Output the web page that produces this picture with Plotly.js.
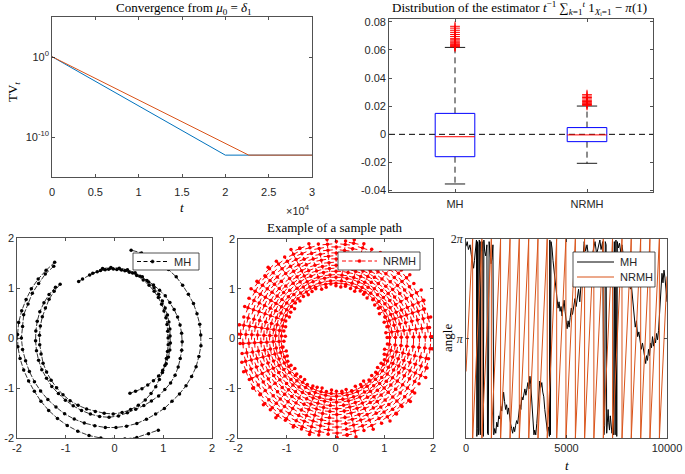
<!DOCTYPE html>
<html><head><meta charset="utf-8">
<script src="https://cdn.plot.ly/plotly-3.0.1.min.js"></script>
<style>html,body{margin:0;padding:0;background:#fff}#chart{width:685px;height:474px}</style>
</head><body><div id="chart"></div>
<script>
// ---------- Panel 1: TV_t convergence (log scale) ----------
const tvTimeMH = [0, 20000, 30000];
const tvMH = [1.1, 5.4e-13, 5.4e-13];
const tvTimeNRMH = [0, 22700, 30000];
const tvNRMH = [1.1, 5.4e-13, 5.4e-13];
const tvXTickVals = [0, 5000, 10000, 15000, 20000, 25000, 30000];
const tvXTickText = ['0', '0.5', '1', '1.5', '2', '2.5', '3'];

// ---------- Panel 2: boxplots ----------
const boxCats = ['MH', 'NRMH'];
const boxPos = [1, 2];
const boxQ1 = [-0.0159, -0.0052];
const boxMed = [-0.0017, -0.0004];
const boxQ3 = [0.0149, 0.0048];
const boxLowW = [-0.0353, -0.0206];
const boxUpW = [0.0618, 0.0201];
const outMH = [0.0622, 0.0626, 0.063, 0.0635, 0.064, 0.0648, 0.0655, 0.0663, 0.0672, 0.068, 0.0695, 0.071, 0.0725, 0.074, 0.0755, 0.0768];
const outNRMH = [0.0206, 0.0212, 0.0218, 0.0225, 0.0233, 0.0242, 0.0252, 0.0262, 0.0272, 0.0282];
const boxYTickVals = [-0.04, -0.02, 0, 0.02, 0.04, 0.06, 0.08];
const boxYTickText = ['-0.04', '-0.02', '0', '0.02', '0.04', '0.06', '0.08'];

// ---------- Panel 3: MH sample path (angle in degrees, radius) ----------
const mhArc1Deg = [129,136,143,150,157,164,171,178,185,192,199,206,213,220,227,234,241,248,255,262,269,276,283,290,296];
const mhArc1R = [1.95,1.95,1.96,1.97,1.97,1.98,1.99,1.99,1.99,1.98,1.97,1.96,1.96,1.97,1.98,1.99,2.0,2.01,2.02,2.02,2.03,2.03,2.04,2.04,2.05];
const mhArc2Deg = [131,138,145,152,159,166,173,180,187,194,201,208,215,222,229,236,243,250,257,264,271,278,285,292,299,306,313,320,327,334,341,348,355,2,9,16,23,30,37,44,51,58,65,72,79];
const mhArc2R = [1.9,1.91,1.9,1.91,1.9,1.92,1.9,1.91,1.9,1.88,1.87,1.86,1.85,1.84,1.83,1.83,1.82,1.81,1.8,1.8,1.79,1.78,1.77,1.75,1.74,1.74,1.73,1.74,1.75,1.76,1.77,1.77,1.78,1.77,1.77,1.76,1.76,1.75,1.75,1.76,1.76,1.77,1.78,1.79,1.79];
const mhArc3Deg = [136,143,150,157,164,171,178,185,192,199,206,213,220,227,234,241,248,255,262,269,276,283,290,297,304,311,318,325,332,339,346,353,0,7,14,21,28,35,42,49,56,63,70,77,84,91,98,105,112,119,123];
const mhArc3R = [1.55,1.55,1.55,1.54,1.54,1.54,1.54,1.54,1.54,1.55,1.55,1.55,1.55,1.55,1.55,1.54,1.53,1.52,1.52,1.52,1.5,1.47,1.43,1.39,1.34,1.29,1.24,1.2,1.17,1.14,1.12,1.11,1.1,1.1,1.11,1.13,1.15,1.18,1.21,1.24,1.27,1.3,1.33,1.35,1.37,1.38,1.38,1.37,1.36,1.35,1.35];
const mhArc4Deg = [100,93,86,79,72,65,58,51,44,37,30,23,16,9,2,355,348,341,334,327,320,313,306,299,292,286];
const mhArc4R = [1.41,1.41,1.4,1.39,1.37,1.35,1.32,1.29,1.26,1.23,1.2,1.18,1.16,1.15,1.14,1.15,1.16,1.17,1.18,1.18,1.18,1.17,1.16,1.16,1.15,1.15];
const mhArc5Deg = [140,147,154,161,168,175,182,189,196,203,210,217,224,231,238,245,252,259,266,273,280,287,294,301,308,315,322,329,336,343,350,357,4,11,18,25,32,39,46,53,60,67,74,81,88,95,102,109];
const mhArc5R = [1.58,1.6,1.61,1.62,1.62,1.62,1.62,1.62,1.62,1.62,1.61,1.61,1.6,1.6,1.6,1.6,1.6,1.6,1.59,1.56,1.52,1.49,1.48,1.47,1.47,1.46,1.46,1.45,1.43,1.41,1.4,1.39,1.38,1.37,1.36,1.35,1.34,1.34,1.33,1.33,1.33,1.34,1.35,1.36,1.37,1.38,1.38,1.37];

// ---------- Panel 4: NRMH sample path (radial spokes) ----------
const nrmhSpokeDeg = [1,6.5,12.5,18,23, 29,34.5,40,45.5,51.5, 57,62,67.5,73,79, 84,89.5,95,100.5,106, 112,117,122.5,128,134, 139,144.5,150,155.5,161, 167,172,177.5,183,189, 194,199.5,205,210.5,216, 222,227,232.5,238,244, 249,254.5,260,265.5,271, 277,282,287.5,293,299, 304,309.5,315,320.5,326, 332,337,342.5,348,354];
const nrmhInnerR = [1.06,1.04,1.08,1.05,1.1, 1.03,1.07,1.05,1.09,1.04, 1.06,1.08,1.03,1.05,1.07, 1.04,1.06,1.1,1.05,1.03, 1.08,1.06,1.04,1.07,1.05, 1.09,1.03,1.06,1.04,1.08, 1.05,1.07,1.03,1.06,1.09, 1.04,1.05,1.08,1.06,1.03, 1.07,1.05,1.04,1.09,1.06, 1.05,1.03,1.08,1.04,1.06, 1.07,1.05,1.1,1.04,1.06, 1.03,1.08,1.05,1.07,1.04, 1.06,1.09,1.05,1.03,1.07];
const nrmhOuterR = [1.98,1.94,2.0,1.92,1.97, 2.01,1.95,1.99,1.93,1.98, 2.0,1.96,1.94,1.99,2.02, 1.97,1.95,2.0,1.93,1.98, 1.96,2.01,1.94,1.97,1.99, 1.92,1.98,2.0,1.95,1.97, 1.93,1.99,2.01,1.96,1.94, 1.98,2.0,1.95,1.97,1.92, 1.99,1.96,2.01,1.94,1.98, 1.95,2.0,1.97,1.93,1.99, 1.96,2.02,1.94,1.98,1.95, 2.0,1.97,1.93,1.99,1.96, 1.94,2.01,1.97,1.95,1.99];
const nrmhLevelsA = [1.11,1.23,1.35,1.47,1.6,1.72,1.84,1.95];
const nrmhLevelsB = [1.16,1.28,1.41,1.53,1.66,1.78,1.9];

// ---------- Panel 5: angle vs t ----------
const mhAngT = [0,60,120,200,260,320,378,420,470,520,540,560,575,600,615,640,660,690,710,740,780,830,860,890,930,980,1040,1070,1110,1150,1200,1250,1300,1340,1380,1430,1480,1530,1580,1630,1680,1730,1780,1830,1870,1920,1970,2020,2070,2120,2170,2220,2270,2320,2370,2420,2470,2520,2570,2620,2680,2730,2780,2830,2880,2930,2980,3030,3080,3130,3180,3220,3260,3300,3340,3380,3420,3470,3520,3570,3620,3670,3720,3770,3820,3870,3920,3960,4000,4050,4100,4150,4170,4200,4230,4280,4330,4380,4430,4480,4530,4580,4630,4680,4730,4780,4830,4880,4930,4980,5030,5080,5130,5180,5240,5300,5360,5420,5480,5540,5600,5660,5720,5800,5880,5950,6020,6100,6180,6260,6340,6420,6500,6580,6660,6720,6800,6860,6900,6930,6970,7000,7030,7070,7100,7140,7180,7220,7260,7300,7340,7380,7420,7460,7500,7530,7580,7640,7700,7760,7820,7900,7980,8060,8120,8180,8240,8300,8360,8420,8480,8540,8600,8660,8720,8780,8840,8900,8940,8980,9030,9080,9130,9180,9230,9280,9330,9380,9430,9480,9530,9580,9620,9660,9700,9750,9800,9850,9900,9950,10000];
const mhAng = [6.05,6.2,5.95,6.1,5.8,5.55,5.36,5.6,6.0,6.25,0.05,0.3,6.2,6.1,0.1,0.25,6.25,6.0,0.1,6.2,5.9,6.2,0.05,6.25,5.9,5.75,6.1,0.15,0.1,6.2,5.8,5.5,5.7,6.1,0.1,0.3,0.15,0.5,0.35,0.7,0.6,1.0,0.85,1.2,1.45,1.15,0.9,1.05,0.75,0.95,0.6,0.45,0.3,0.15,0.35,0.2,0.4,0.55,0.45,0.8,1.05,0.9,1.3,1.2,1.4,1.55,1.35,1.6,1.75,1.55,1.95,1.7,1.2,0.7,0.3,0.1,0.25,0.1,0.45,0.9,1.3,1.8,1.6,1.75,1.45,1.3,0.9,0.6,0.4,0.2,0.35,0.05,6.25,0.1,6.2,6.0,5.6,5.3,5.0,4.7,4.4,4.1,4.3,4.0,4.15,3.85,4.1,4.35,4.0,3.7,3.45,3.7,3.5,3.8,4.1,3.9,4.2,4.4,4.15,4.5,4.7,4.3,4.8,5.6,6.2,5.9,6.1,5.7,5.5,5.7,6.0,6.2,5.8,6.05,6.25,5.95,6.2,0.1,0.4,6.2,6.1,0.15,0.6,0.9,0.5,0.25,0.7,0.4,0.15,0.3,0.1,6.2,0.1,6.25,0.05,6.2,6.0,6.15,5.85,6.1,5.8,5.6,5.3,5.2,4.9,4.7,4.75,4.3,3.9,3.5,3.7,3.2,3.35,3.05,2.8,3.0,2.7,2.5,2.35,2.6,2.45,2.8,2.6,3.0,2.85,3.2,2.9,3.15,3.0,3.3,3.1,3.4,3.8,4.4,4.9,5.2,4.9,5.3,5.05,4.6,4.3];
const nrmhAngT = [0,150,330, 332,560,790, 792,1020,1260, 1262,1490,1720, 1722,1950,2190, 2192,2420,2650, 2652,2880,3120, 3122,3350,3580, 3582,3810,4040, 4042,4270,4510, 4512,4740,4970, 4972,5200,5440, 5442,5670,5900, 5902,6130,6360, 6362,6600,6830, 6832,7060,7290, 7292,7520,7760, 7762,7990,8220, 8222,8450,8690, 8692,8920,9150, 9152,9380,9620, 9622,9820,10000];
const nrmhAng = [2.1,4.0,6.28, 0.0,3.2,6.28, 0.0,3.0,6.28, 0.0,3.3,6.28, 0.0,3.1,6.28, 0.0,3.2,6.28, 0.0,3.05,6.28, 0.0,3.25,6.28, 0.0,3.1,6.28, 0.0,3.15,6.28, 0.0,3.2,6.28, 0.0,3.0,6.28, 0.0,3.2,6.28, 0.0,3.1,6.28, 0.0,3.3,6.28, 0.0,3.15,6.28, 0.0,3.1,6.28, 0.0,3.2,6.28, 0.0,3.05,6.28, 0.0,3.2,6.28, 0.0,3.1,6.28, 0.0,2.7,5.1];
const angTickVals = [Math.PI, 2 * Math.PI];
const angTickText = ['<i>π</i>', '2<i>π</i>'];
const xyTickVals = [-2, -1, 0, 1, 2];
const xyTickText = ['-2', '-1', '0', '1', '2'];
const legendNames = ['MH', 'NRMH'];

// ---------- helpers ----------
const W = 685, H = 474;
const fx = v => v / W, fy = v => 1 - v / H;
const dX = (a, b) => [a / W, b / W];
const dY = (top, bot) => [1 - bot / H, 1 - top / H];
const SANS = 'Liberation Sans, Arial, sans-serif';
const SERIF = 'Liberation Serif, Times New Roman, serif';
const AX = '#262626';
const BLUE = '#0072BD', ORANGE = '#D95319';

function axis(extra) {
  return Object.assign({
    showline: true, mirror: 'ticks', linecolor: AX, linewidth: 0.8,
    ticks: 'inside', ticklen: 3, tickwidth: 0.8, tickcolor: AX,
    showgrid: false, zeroline: false, fixedrange: true,
    tickfont: {family: SANS, size: 11, color: AX}
  }, extra);
}
function polarPieces(pieces) {
  const x = [], y = [];
  pieces.forEach(([deg, r], k) => {
    if (k > 0) { x.push(null); y.push(null); }
    deg.forEach((d, i) => {
      const a = d * Math.PI / 180;
      x.push(r[i] * Math.cos(a)); y.push(r[i] * Math.sin(a));
    });
  });
  return {x, y};
}

const traces = [];

// Panel 1
traces.push({x: tvTimeMH, y: tvMH, xaxis: 'x', yaxis: 'y', mode: 'lines',
  line: {color: BLUE, width: 1}, showlegend: false, hoverinfo: 'skip'});
traces.push({x: tvTimeNRMH, y: tvNRMH, xaxis: 'x', yaxis: 'y', mode: 'lines',
  line: {color: ORANGE, width: 1}, showlegend: false, hoverinfo: 'skip'});

// Panel 2
const BW = 0.15, CW = 0.077;
traces.push({x: [0.5, 2.5], y: [0, 0], xaxis: 'x2', yaxis: 'y2', mode: 'lines',
  line: {color: '#000', width: 1, dash: '6px,4px'}, showlegend: false, hoverinfo: 'skip'});
const wx = [], wy = [], cx = [], cy = [], bx = [], by = [], mx = [], my = [];
boxPos.forEach((p, i) => {
  wx.push(p, p, null, p, p, null); wy.push(boxQ3[i], boxUpW[i], null, boxQ1[i], boxLowW[i], null);
  cx.push(p - CW, p + CW, null, p - CW, p + CW, null); cy.push(boxUpW[i], boxUpW[i], null, boxLowW[i], boxLowW[i], null);
  bx.push(p - BW, p + BW, p + BW, p - BW, p - BW, null); by.push(boxQ1[i], boxQ1[i], boxQ3[i], boxQ3[i], boxQ1[i], null);
  mx.push(p - BW, p + BW, null); my.push(boxMed[i], boxMed[i], null);
});
traces.push({x: wx, y: wy, xaxis: 'x2', yaxis: 'y2', mode: 'lines', line: {color: '#000', width: 0.9, dash: '6px,4px'}, showlegend: false, hoverinfo: 'skip'});
traces.push({x: cx, y: cy, xaxis: 'x2', yaxis: 'y2', mode: 'lines', line: {color: '#000', width: 0.9}, showlegend: false, hoverinfo: 'skip'});
traces.push({x: bx, y: by, xaxis: 'x2', yaxis: 'y2', mode: 'lines', line: {color: '#0000FF', width: 1}, showlegend: false, hoverinfo: 'skip'});
traces.push({x: mx, y: my, xaxis: 'x2', yaxis: 'y2', mode: 'lines', line: {color: '#FF0000', width: 1}, showlegend: false, hoverinfo: 'skip'});
const ox = outMH.map(() => boxPos[0]).concat(outNRMH.map(() => boxPos[1]));
const oy = outMH.concat(outNRMH);
traces.push({x: ox, y: oy, xaxis: 'x2', yaxis: 'y2', mode: 'markers',
  marker: {symbol: 'cross-thin', size: 7, line: {color: '#FF0000', width: 1}}, showlegend: false, hoverinfo: 'skip'});

// Panel 3
const mhXY = polarPieces([[mhArc1Deg, mhArc1R], [mhArc2Deg, mhArc2R], [mhArc3Deg, mhArc3R], [mhArc4Deg, mhArc4R], [mhArc5Deg, mhArc5R]]);
traces.push({x: mhXY.x, y: mhXY.y, xaxis: 'x3', yaxis: 'y3', mode: 'lines+markers', name: legendNames[0],
  line: {color: '#000', width: 0.8, dash: '5px,1.5px'}, marker: {color: '#000', size: 3.5},
  showlegend: false, hoverinfo: 'skip', connectgaps: false});

// Panel 4
const sx = [], sy = [], tx = [], ty = [], ta = [];
nrmhSpokeDeg.forEach((d, i) => {
  const a = d * Math.PI / 180, c = Math.cos(a), s = Math.sin(a);
  const lv = (i % 2 === 0 ? nrmhLevelsA : nrmhLevelsB).filter(r => r > nrmhInnerR[i] && r < nrmhOuterR[i]);
  const rs = [nrmhInnerR[i]].concat(lv, [nrmhOuterR[i]]);
  rs.forEach(r => { sx.push(r * c); sy.push(r * s); });
  sx.push(null); sy.push(null);
  lv.forEach(r => { tx.push(r * c); ty.push(r * s); ta.push(-d); });
});
traces.push({x: tx, y: ty, xaxis: 'x4', yaxis: 'y4', mode: 'markers',
  marker: {symbol: 'line-ns', size: 7, angle: ta, line: {color: '#FF0000', width: 1}},
  showlegend: false, hoverinfo: 'skip'});
traces.push({x: sx, y: sy, xaxis: 'x4', yaxis: 'y4', mode: 'lines+markers', name: legendNames[1],
  line: {color: '#FF0000', width: 1, dash: '4px,2px'}, marker: {color: '#FF0000', size: 3.5},
  showlegend: false, hoverinfo: 'skip', connectgaps: false});

// Panel 5
traces.push({x: mhAngT, y: mhAng, xaxis: 'x5', yaxis: 'y5', mode: 'lines', name: legendNames[0],
  line: {color: '#000', width: 1}, showlegend: false, hoverinfo: 'skip'});
traces.push({x: nrmhAngT, y: nrmhAng, xaxis: 'x5', yaxis: 'y5', mode: 'lines', name: legendNames[1],
  line: {color: ORANGE, width: 1}, showlegend: false, hoverinfo: 'skip'});

// ---------- hand-built MATLAB-style legends (paper coords) ----------
const shapes = [];
const legendAnns = [];
function legendBox(x0, x1, y0, y1) {
  shapes.push({type: 'rect', xref: 'paper', yref: 'paper', x0: fx(x0), x1: fx(x1), y0: fy(y1), y1: fy(y0),
    line: {color: AX, width: 0.8}, fillcolor: '#fff', layer: 'above'});
}
function legendEntry(xa, xb, y, color, dash, withDot, label) {
  shapes.push({type: 'line', xref: 'paper', yref: 'paper', x0: fx(xa), x1: fx(xb), y0: fy(y), y1: fy(y),
    line: {color, width: 1, dash}, layer: 'above'});
  if (withDot) {
    const xm = (xa + xb) / 2;
    shapes.push({type: 'circle', xref: 'paper', yref: 'paper', x0: fx(xm - 1.6), x1: fx(xm + 1.6), y0: fy(y + 1.6), y1: fy(y - 1.6),
      line: {color, width: 0.5}, fillcolor: color, layer: 'above'});
  }
  legendAnns.push({text: label, x: fx(xb + 4), y: fy(y), xref: 'paper', yref: 'paper', showarrow: false,
    xanchor: 'left', yanchor: 'middle', font: {family: SANS, size: 11, color: AX}});
}
legendBox(133, 199, 253, 270);
legendEntry(137, 168, 261.5, '#000', '4px,2.5px', true, legendNames[0]);
legendBox(338, 420, 252, 270);
legendEntry(342, 377, 261, '#FF0000', '4px,2.5px', true, legendNames[1]);
legendBox(573, 655, 252, 287);
legendEntry(577, 614, 262, '#000', 'solid', false, legendNames[0]);
legendEntry(577, 614, 277, ORANGE, 'solid', false, legendNames[1]);

function ann(text, x, y, opts) {
  return Object.assign({text, x: x / W, y: 1 - y / H, xref: 'paper', yref: 'paper', showarrow: false,
    xanchor: 'center', yanchor: 'middle', font: {family: SERIF, size: 13, color: '#000'}}, opts || {});
}

const layout = {
  width: W, height: H, margin: {l: 0, r: 0, t: 0, b: 0}, paper_bgcolor: '#fff', plot_bgcolor: '#fff',
  showlegend: false,
  xaxis: axis({domain: dX(52, 312), range: [0, 30000], tickvals: tvXTickVals, ticktext: tvXTickText, anchor: 'y', ticklabelstandoff: 5}),
  yaxis: axis({domain: dY(17, 177), type: 'log', range: [-15, 5], tickvals: [1, 1e-10], ticktext: ['10<sup>0</sup>', '10<sup>-10</sup>'], anchor: 'x'}),
  xaxis2: axis({domain: dX(389, 653), range: [0.5, 2.5], tickvals: boxPos, ticktext: boxCats, anchor: 'y2', ticklabelstandoff: 2}),
  yaxis2: axis({domain: dY(19, 192), range: [-0.041, 0.082], tickvals: boxYTickVals, ticktext: boxYTickText, anchor: 'x2'}),
  xaxis3: axis({domain: dX(17, 212), range: [-2, 2], tickvals: xyTickVals, ticktext: xyTickText, anchor: 'y3'}),
  yaxis3: axis({domain: dY(238, 438), range: [-2, 2], tickvals: xyTickVals, ticktext: xyTickText, anchor: 'x3'}),
  xaxis4: axis({domain: dX(238, 433), range: [-2, 2], tickvals: xyTickVals, ticktext: xyTickText, anchor: 'y4'}),
  yaxis4: axis({domain: dY(239, 438), range: [-2, 2], tickvals: xyTickVals, ticktext: xyTickText, anchor: 'x4'}),
  xaxis5: axis({domain: dX(466, 667), range: [0, 10000], tickvals: [0, 5000, 10000], ticktext: ['0', '5000', '10000'], anchor: 'y5'}),
  yaxis5: axis({domain: dY(239, 438), range: [0, 2 * Math.PI], tickvals: angTickVals, ticktext: angTickText, anchor: 'x5',
    tickfont: {family: SERIF, size: 12, color: AX}}),
  shapes: shapes,
  annotations: [
    ann('Convergence from <i>μ</i><sub>0</sub> = <i>δ</i><sub>1</sub>', 184, 8),
    ann('Distribution of the estimator <i>t</i><sup>−1</sup> ∑<sub><i>k</i>=1</sub><sup><i>t</i></sup> 1<sub><i>X</i>ᵢ=1</sub> − <i>π</i>(1)', 519, 8),
    ann('TV<sub><i>t</i></sub>', 14, 92, {textangle: -90}),
    ann('<i>t</i>', 182, 207),
    ann('×10<sup>4</sup>', 298, 210, {font: {family: SANS, size: 11, color: AX}}),
    ann('Example of a sample path', 335, 227),
    ann('angle', 447, 338, {textangle: -90}),
    ann('<i>t</i>', 567, 465)
  ].concat(legendAnns)
};

Plotly.newPlot('chart', traces, layout, {displayModeBar: false, staticPlot: true});
</script></body></html>
